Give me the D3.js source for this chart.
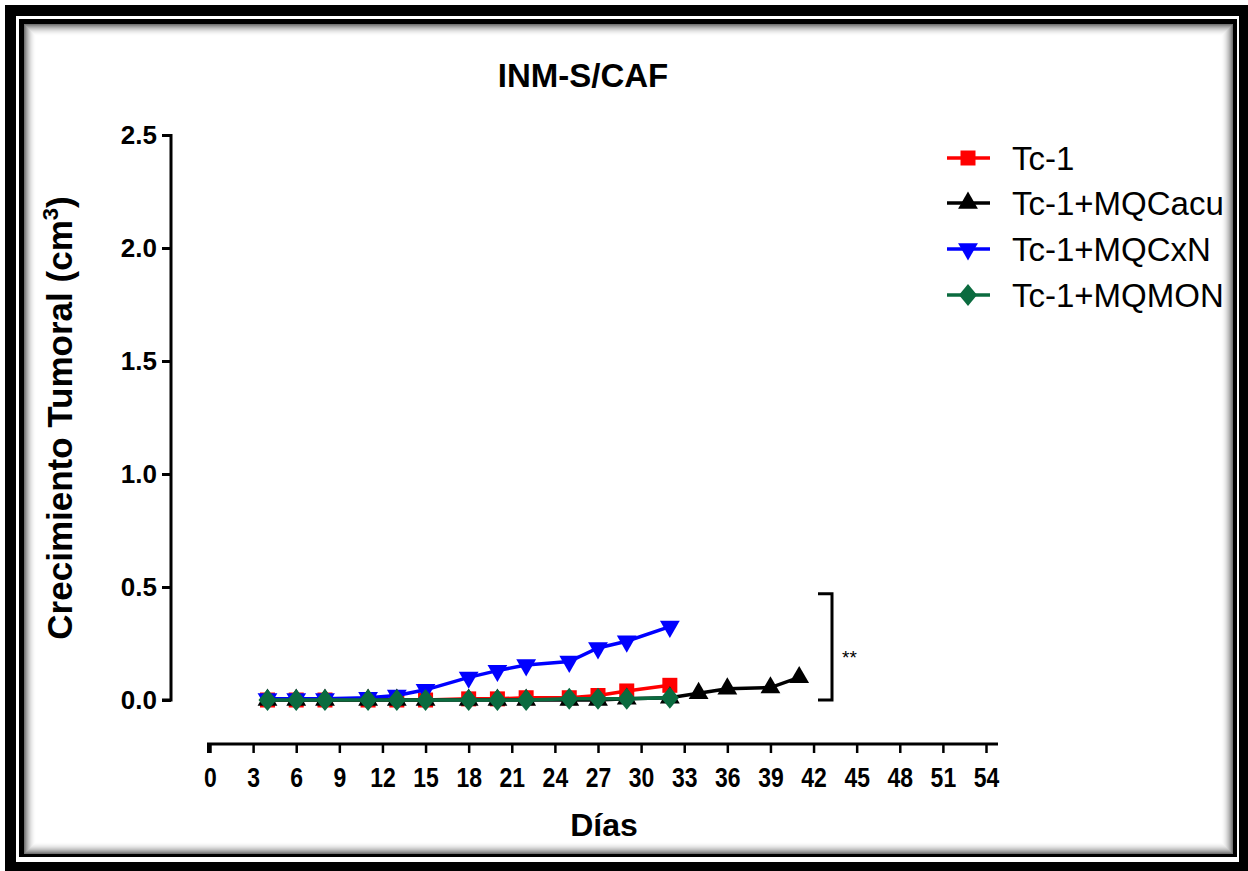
<!DOCTYPE html>
<html><head><meta charset="utf-8">
<script src="https://cdn.jsdelivr.net/npm/d3@7"></script>
<style>body{margin:0;background:#fff}svg{display:block}text{font-family:"Liberation Sans",Arial,sans-serif}</style>
</head><body>
<script>
// ---- data ----
const title = "INM-S/CAF";
const xLabel = "Días";
const yLabel = "Crecimiento Tumoral (cm";
const xTicks = [0,3,6,9,12,15,18,21,24,27,30,33,36,39,42,45,48,51,54];
const yTicks = [0,0.5,1.0,1.5,2.0,2.5];
const seriesNames = ["Tc-1","Tc-1+MQCacu","Tc-1+MQCxN","Tc-1+MQMON"];
const seriesColors = ["#ff0000","#000000","#0000ff","#0b6b3f"];
const seriesShapes = ["square","triangleUp","triangleDown","diamond"];
const daysTc1   = [4,6,8,11,13,15,18,20,22,25,27,29,32];
const valsTc1   = [0,0,0,0,0,0,0.005,0.005,0.01,0.01,0.02,0.04,0.065];
const daysCacu  = [4,6,8,11,13,15,18,20,22,25,27,29,32,34,36,39,41];
const valsCacu  = [0,0,0,0,0,0,0,0,0,0,0,0.005,0.01,0.03,0.05,0.055,0.1];
const daysCxN   = [4,6,8,11,13,15,18,20,22,25,27,29,32];
const valsCxN   = [0.005,0.005,0.005,0.01,0.02,0.045,0.1,0.13,0.155,0.17,0.23,0.26,0.325];
const daysMON   = [4,6,8,11,13,15,18,20,22,25,27,29,32];
const valsMON   = [0,0,0,0,0,0,0,0,0,0.005,0.005,0.005,0.01];
const bracketRange = [0.0, 0.47];
const bracketLabel = "**";

const W=1248,H=871;
const svg=d3.select("body").append("svg").attr("width",W).attr("height",H);

// frame
svg.append("path").attr("fill","#000").attr("fill-rule","evenodd")
  .attr("d","M5,5H1248V871H5Z M16,16V862H1239V16Z");
svg.append("path").attr("fill","#000").attr("fill-rule","evenodd")
  .attr("d","M19,19H1237V857H19Z M24,24V854H1233V24Z");
for(let i=0;i<12;i++){
  const op=0.55*Math.pow(1-i/12,2);
  svg.append("rect").attr("x",24.5+i).attr("y",24.5+i)
    .attr("width",1233-24-1-2*i).attr("height",854-24-1-2*i)
    .attr("fill","none").attr("stroke","#000").attr("stroke-opacity",op).attr("stroke-width",1);
}

const x=d3.scaleLinear().domain([0,54]).range([210,986]);
const y=d3.scaleLinear().domain([0,2.5]).range([700,135]);

// title
svg.append("text").attr("x",583).attr("y",87).attr("text-anchor","middle")
  .attr("font-size",33).attr("font-weight","bold").text(title);

// y axis
const yAx=svg.append("g").attr("transform","translate(171,0)")
  .call(d3.axisLeft(y).tickValues(yTicks).tickFormat(d3.format(".1f")).tickSize(9).tickPadding(5));
yAx.select(".domain").attr("stroke-width",3).attr("d","M-9,135.5H0V700H-9");
yAx.selectAll(".tick line").attr("stroke-width",3);
yAx.selectAll(".tick text").attr("font-size",26).attr("font-weight","bold")
  .attr("font-family","'Liberation Sans',Arial,sans-serif").attr("fill","#000");

// x axis
const xAx=svg.append("g").attr("transform","translate(0,744)")
  .call(d3.axisBottom(x).tickValues(xTicks).tickSize(9).tickPadding(14));
xAx.select(".domain").attr("stroke-width",3).attr("d","M208.5,9V0H998");
xAx.selectAll(".tick line").attr("stroke-width",2.5);
xAx.selectAll(".tick text").attr("font-size",28).attr("font-weight","bold")
  .attr("font-family","'Liberation Sans',Arial,sans-serif").attr("fill","#000")
  .attr("transform","scale(0.82,1)");

// axis titles
svg.append("text").attr("x",604).attr("y",836).attr("text-anchor","middle")
  .attr("font-size",32).attr("font-weight","bold").text(xLabel);
const yl=svg.append("text").attr("transform","translate(72,418) rotate(-90)").attr("text-anchor","middle")
  .attr("font-size",35).attr("font-weight","bold");
yl.append("tspan").text(yLabel);
yl.append("tspan").attr("font-size",22).attr("dy",-14).text("3");
yl.append("tspan").attr("dy",14).text(")");

// symbols
function sym(shape){
  if(shape==="square") return d3.symbol(d3.symbolSquare,225)();
  if(shape==="diamond") return "M0,-11L9,0L0,11L-9,0Z";
  return d3.symbol(d3.symbolTriangle,170)();
}
function rot(shape){return shape==="triangleDown"?" rotate(180)":"";}

const series=[
  {days:daysTc1,vals:valsTc1},
  {days:daysCacu,vals:valsCacu},
  {days:daysCxN,vals:valsCxN},
  {days:daysMON,vals:valsMON}
];
const line=d3.line().x(d=>x(d[0])).y(d=>y(d[1]));
series.forEach((s,i)=>{
  const pts=s.days.map((d,j)=>[d,s.vals[j]]);
  const g=svg.append("g");
  g.append("path").attr("d",line(pts)).attr("fill","none")
    .attr("stroke",seriesColors[i]).attr("stroke-width",3.5);
  g.selectAll("path.m").data(pts).enter().append("path").attr("class","m")
    .attr("d",sym(seriesShapes[i]))
    .attr("transform",d=>`translate(${x(d[0])},${y(d[1])})${rot(seriesShapes[i])}`)
    .attr("fill",seriesColors[i]);
});

// significance bracket
const bx=832;
svg.append("path").attr("fill","none").attr("stroke","#000").attr("stroke-width",3)
  .attr("d",`M818,${y(bracketRange[1])}H${bx}V${y(bracketRange[0])}H818`);
svg.append("text").attr("x",842).attr("y",664).attr("font-size",19).text(bracketLabel);

// legend
const legY=[158,203,249,295];
seriesNames.forEach((n,i)=>{
  const g=svg.append("g").attr("transform",`translate(968,${legY[i]})`);
  g.append("line").attr("x1",-21).attr("x2",22).attr("stroke",seriesColors[i]).attr("stroke-width",3.5);
  g.append("path").attr("d",sym(seriesShapes[i])).attr("transform","translate(0,0)"+rot(seriesShapes[i]))
    .attr("fill",seriesColors[i]);
  g.append("text").attr("x",44).attr("y",12).attr("font-size",33).text(n);
});
</script>
</body></html>
